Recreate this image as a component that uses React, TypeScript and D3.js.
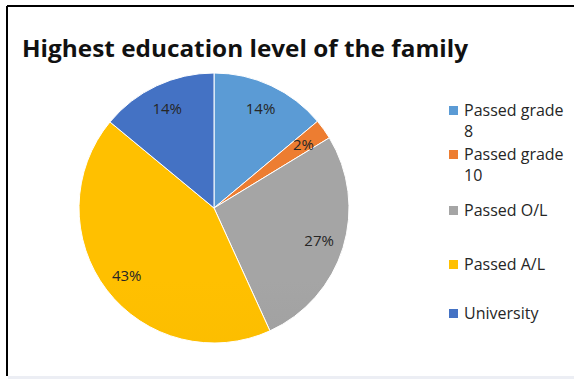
import React from "react";
import * as d3 from "d3";

const title = "Highest education level of the family";
const categories = ["Passed grade 8", "Passed grade 10", "Passed O/L", "Passed A/L", "University"];
const legendLines = [["Passed grade", "8"], ["Passed grade", "10"], ["Passed O/L"], ["Passed A/L"], ["University"]];
const values = [13.9, 2.4, 26.9, 42.8, 14.0];
const colors = ["#5B9BD5", "#ED7D31", "#A5A5A5", "#FFC000", "#4472C4"];
const colorsDark = ["#4A8ACB", "#E06F22", "#949494", "#F2B600", "#3A66B8"];

const W = 574;
const H = 379;
const CX = 214;
const CY = 208;
const R = 135;
const LABEL_R = 110;
const LEGEND_Y = [116, 160, 216, 270, 319];

export default function App() {
  const total = d3.sum(values);
  const pie = d3.pie<number>().sort(null).value((d) => d)(values);
  const arc = d3.arc<d3.PieArcDatum<number>>().innerRadius(0).outerRadius(R);
  const labelArc = d3.arc<d3.PieArcDatum<number>>().innerRadius(LABEL_R).outerRadius(LABEL_R);

  return (
    <svg
      width={W}
      height={H}
      style={{ position: "absolute", left: 0, top: 0, background: "#fff" }}
      fontFamily="'Open Sans', 'Noto Sans', sans-serif"
    >
      <defs>
        {colors.map((c, i) => (
          <linearGradient key={i} id={`g${i}`} gradientUnits="userSpaceOnUse" x1={0} y1={CY - R} x2={0} y2={CY + R}>
            <stop offset="0" stopColor={c} />
            <stop offset="1" stopColor={colorsDark[i]} />
          </linearGradient>
        ))}
      </defs>
      <rect x={0} y={0} width={W} height={H} fill="#fff" />
      <line x1={7} y1={6} x2={W} y2={6} stroke="#000" strokeWidth={2} />
      <line x1={7} y1={6} x2={7} y2={376} stroke="#000" strokeWidth={2} />
      <rect x={8} y={376} width={W - 8} height={3} fill="#eceef4" />

      <text
        x={22}
        y={57}
        fontSize={23}
        fontWeight={700}
        fill="#111"
        textLength={446}
        lengthAdjust="spacingAndGlyphs"
      >
        {title}
      </text>

      <g transform={`translate(${CX},${CY})`}>
        {pie.map((d, i) => (
          <path key={categories[i]} d={arc(d) || ""} fill={`url(#g${i})`} stroke="#fff" strokeWidth={1} />
        ))}
        {pie.map((d, i) => {
          const [x, y] = labelArc.centroid(d);
          return (
            <text
              key={"l" + i}
              x={x}
              y={y}
              textAnchor="middle"
              dominantBaseline="central"
              fontSize={15}
              fill="#262626"
            >
              {`${Math.round((values[i] / total) * 100)}%`}
            </text>
          );
        })}
      </g>

      <g>
        {categories.map((c, i) => (
          <g key={"lg" + c}>
            <rect x={449} y={LEGEND_Y[i] - 10} width={9} height={9} fill={colors[i]} />
            {legendLines[i].map((t, j) => (
              <text key={j} x={464} y={LEGEND_Y[i] + j * 21} fontSize={16} fill="#262626">
                {t}
              </text>
            ))}
          </g>
        ))}
      </g>
    </svg>
  );
}
